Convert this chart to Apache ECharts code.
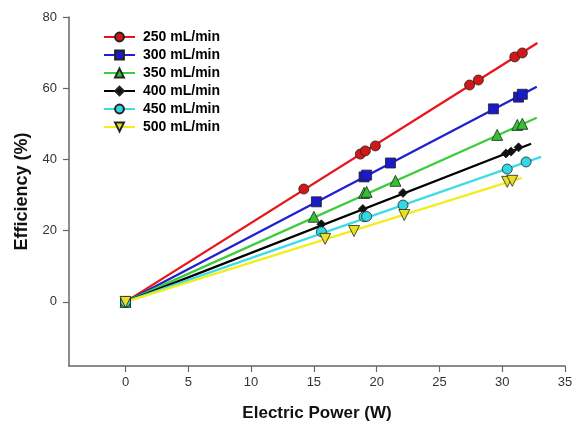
<!DOCTYPE html>
<html>
<head>
<meta charset="utf-8">
<script src="https://cdn.jsdelivr.net/npm/echarts@6/dist/echarts.min.js"></script>
<style>html,body{margin:0;padding:0;background:#fff}#c{width:575px;height:426px}</style>
</head>
<body>
<div id="c"></div>
<script>
const seriesNames = ['250 mL/min', '300 mL/min', '350 mL/min', '400 mL/min', '450 mL/min', '500 mL/min'];
const xTicks = [0, 5, 10, 15, 20, 25, 30, 35];
const yTicks = [0, 20, 40, 60, 80];

const power250 = [0, 14.2, 18.7, 19.1, 19.9, 27.4, 28.1, 31.0, 31.6];
const eff250   = [0, 31.7, 41.5, 42.4, 43.8, 60.9, 62.3, 68.8, 69.9];
const power300 = [0, 15.2, 19.0, 19.2, 21.1, 29.3, 31.3, 31.6];
const eff300   = [0, 28.1, 35.1, 35.6, 39.0, 54.2, 57.5, 58.3];
const power350 = [0, 15.0, 19.0, 19.2, 21.5, 29.6, 31.2, 31.6];
const eff350   = [0, 23.9, 30.6, 30.9, 34.0, 46.9, 49.7, 50.0];
const power400 = [0, 15.6, 18.9, 22.1, 30.3, 30.7, 31.3];
const eff400   = [0, 21.8, 26.1, 30.6, 41.7, 42.2, 43.4];
const power450 = [0, 15.6, 19.0, 19.2, 22.1, 30.4, 31.9];
const eff450   = [0, 19.7, 23.9, 24.0, 27.2, 37.3, 39.3];
const power500 = [0, 15.9, 18.2, 22.2, 30.4, 30.8];
const eff500   = [0, 17.7, 19.9, 24.4, 33.7, 34.0];

// fitted line end points (lines start at origin)
const fitEndX = [32.8, 32.75, 32.75, 32.3, 33.1, 31.55];
const fitEndY = [72.7, 60.4, 51.7, 44.4, 40.7, 34.8];

const powers = [power250, power300, power350, power400, power450, power500];
const effs = [eff250, eff300, eff350, eff400, eff450, eff500];

const lineColors = ['#e8141a', '#2020d0', '#3ccc3c', '#000000', '#40dce6', '#f2ee1e'];
const fillColors = ['#d01818', '#1a1ac8', '#33c033', '#111111', '#30d8e6', '#e8e020'];
const symbols = ['circle', 'rect', 'triangle', 'diamond', 'circle', 'triangle'];
const symSizes = [10, 10, 11, 9, 10, 11];
const symRot = [0, 0, 0, 0, 0, 180];

const FONT = 'Liberation Sans, Arial, sans-serif';
const series = [];
seriesNames.forEach((name, i) => {
  series.push({
    name: name,
    type: 'line',
    symbol: symbols[i],
    symbolSize: symSizes[i],
    symbolRotate: symRot[i],
    itemStyle: { color: fillColors[i], borderColor: '#222', borderWidth: 0.8 },
    lineStyle: { color: lineColors[i], width: 2.3 },
    data: [
      { value: [0, 0], symbol: 'none' },
      { value: [fitEndX[i], fitEndY[i]], symbol: 'none' }
    ],
    z: 2,
    silent: true,
    animation: false
  });
});
seriesNames.forEach((name, i) => {
  series.push({
    name: name,
    type: 'scatter',
    symbol: symbols[i],
    symbolSize: symSizes[i],
    symbolRotate: symRot[i],
    itemStyle: { color: fillColors[i], borderColor: '#222', borderWidth: 0.8, opacity: 1 },
    data: powers[i].map((p, k) => [p, effs[i][k]]),
    z: 3,
    animation: false
  });
});

const chart = echarts.init(document.getElementById('c'), null, { renderer: 'canvas' });
chart.setOption({
  animation: false,
  backgroundColor: '#ffffff',
  grid: { left: 69, right: 10, top: 17, bottom: 60, containLabel: false, outerBoundsMode: 'none' },
  legend: {
    data: seriesNames,
    orient: 'vertical',
    left: 98,
    top: 25,
    itemWidth: 31,
    itemHeight: 11,
    itemGap: 4,
    textStyle: { fontFamily: FONT, fontSize: 14, fontWeight: 'bold', color: '#000', padding: [0, 0, 0, 3] }
  },
  xAxis: {
    type: 'value',
    min: -4.5,
    max: 35,
    name: 'Electric Power (W)',
    nameLocation: 'middle',
    nameGap: 39,
    nameTextStyle: { fontFamily: FONT, fontSize: 17, fontWeight: 'bold', color: '#111' },
    splitLine: { show: false },
    axisLine: { onZero: false, lineStyle: { color: '#666', width: 1.5 } },
    axisTick: { show: true, length: 6, lineStyle: { color: '#666', width: 1.2 }, customValues: xTicks },
    axisLabel: { fontFamily: FONT, fontSize: 13, color: '#333', margin: 10, customValues: xTicks }
  },
  yAxis: {
    type: 'value',
    min: -18,
    max: 80,
    name: 'Efficiency (%)',
    nameLocation: 'middle',
    nameGap: 38,
    nameTextStyle: { fontFamily: FONT, fontSize: 18, fontWeight: 'bold', color: '#111' },
    splitLine: { show: false },
    axisLine: { onZero: false, lineStyle: { color: '#666', width: 1.5 } },
    axisTick: { show: true, length: 6, lineStyle: { color: '#666', width: 1.2 }, customValues: yTicks },
    axisLabel: { fontFamily: FONT, fontSize: 13, color: '#333', margin: 12, customValues: yTicks }
  },
  series: series
});
</script>
</body>
</html>
